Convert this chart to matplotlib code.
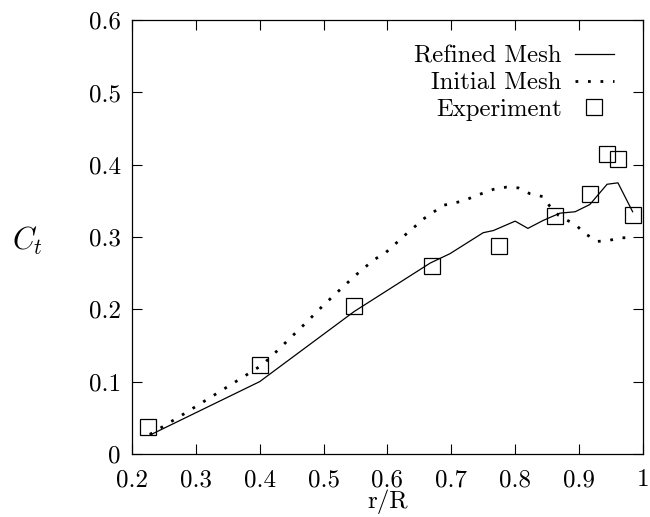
import matplotlib
matplotlib.use("Agg")
import matplotlib.pyplot as plt

plt.rcParams["font.family"] = ["cmr10", "DejaVu Serif"]
plt.rcParams["mathtext.fontset"] = "cm"
plt.rcParams["axes.formatter.use_mathtext"] = True

# Radial thrust coefficient distribution
refined_r = [0.228, 0.40, 0.548, 0.667, 0.698, 0.75, 0.766, 0.80, 0.82,
             0.844, 0.87, 0.894, 0.917, 0.944, 0.961, 0.984]
refined_ct = [0.026, 0.100, 0.197, 0.264, 0.277, 0.306, 0.309, 0.322, 0.312,
              0.323, 0.333, 0.335, 0.345, 0.373, 0.375, 0.335]

initial_r = [0.228, 0.277, 0.328, 0.377, 0.402, 0.415, 0.444, 0.472, 0.499,
             0.528, 0.55, 0.578, 0.598, 0.628, 0.658, 0.688, 0.719, 0.738,
             0.766, 0.786, 0.805, 0.823, 0.843, 0.854, 0.868, 0.896, 0.909,
             0.929, 0.946, 0.964, 0.985]
initial_ct = [0.027, 0.053, 0.081, 0.108, 0.122, 0.132, 0.157, 0.181, 0.205,
              0.229, 0.247, 0.268, 0.279, 0.303, 0.326, 0.344, 0.350, 0.357,
              0.366, 0.369, 0.368, 0.360, 0.356, 0.343, 0.330, 0.316, 0.305,
              0.294, 0.295, 0.299, 0.299]

exp_r = [0.225, 0.40, 0.548, 0.67, 0.774, 0.863, 0.917, 0.944, 0.961, 0.984]
exp_ct = [0.037, 0.123, 0.204, 0.26, 0.287, 0.329, 0.360, 0.415, 0.408, 0.330]

x_ticks = [0.2, 0.3, 0.4, 0.5, 0.6, 0.7, 0.8, 0.9, 1.0]
x_tick_labels = ["0.2", "0.3", "0.4", "0.5", "0.6", "0.7", "0.8", "0.9", "1"]
y_ticks = [0.0, 0.1, 0.2, 0.3, 0.4, 0.5, 0.6]
y_tick_labels = ["0", "0.1", "0.2", "0.3", "0.4", "0.5", "0.6"]

fig = plt.figure(figsize=(6.5, 5.17), dpi=100)
ax = fig.add_axes([0.203, 0.122, 0.786, 0.839])

ax.plot(refined_r, refined_ct, color="black", lw=0.9, label="Refined Mesh")
ax.plot(initial_r, initial_ct, color="black", lw=2.0,
        linestyle=(0, (1, 3.5)), label="Initial Mesh")
ax.plot(exp_r, exp_ct, linestyle="none", marker="s", markersize=11.5,
        markerfacecolor="none", markeredgecolor="black", markeredgewidth=0.9,
        label="Experiment")

ax.set_xlim(0.2, 1.0)
ax.set_ylim(0.0, 0.6)
ax.set_xticks(x_ticks)
ax.set_xticklabels(x_tick_labels)
ax.set_yticks(y_ticks)
ax.set_yticklabels(y_tick_labels)
ax.tick_params(direction="in", length=7, width=0.8, top=True, right=True,
               labelsize=18, pad=8)
ax.tick_params(axis="x", pad=11)
for s in ax.spines.values():
    s.set_linewidth(0.9)

ax.set_xlabel("r/R", fontsize=18, labelpad=-1)
ax.set_ylabel(r"$C_t$", fontsize=22, rotation=0, va="center", ha="center")
ax.yaxis.set_label_coords(-0.205, 0.49)

leg = ax.legend(loc="upper right", markerfirst=False, frameon=False,
                fontsize=17.8, handlelength=1.55, handletextpad=0.55,
                labelspacing=0.18, bbox_to_anchor=(0.962, 0.965),
                borderaxespad=0.0)

fig.savefig("out.png", dpi=100)
